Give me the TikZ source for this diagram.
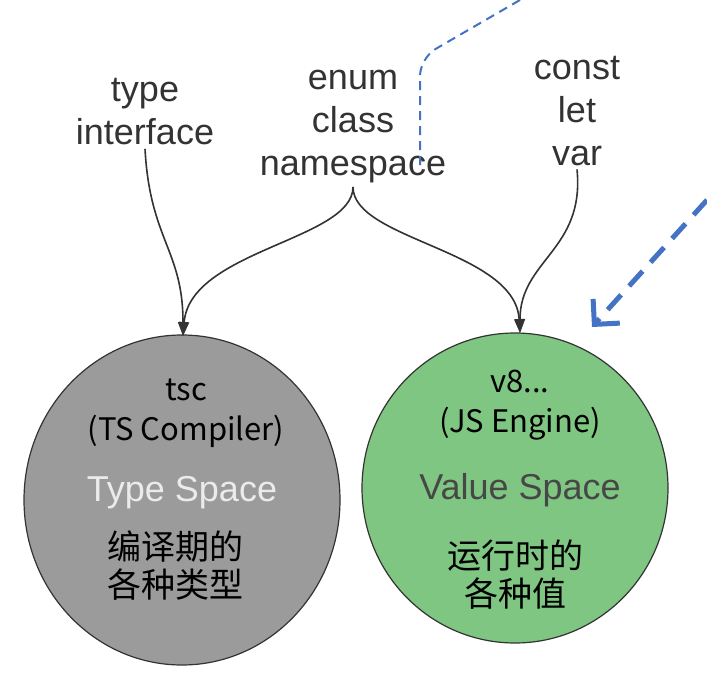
\documentclass[tikz,border=0pt]{standalone}
\usepackage{fontspec}
\setmainfont{Liberation Sans}
\newfontfamily\cjk{Noto Sans CJK SC}
\usetikzlibrary{arrows.meta,shapes.geometric}
\definecolor{txt}{HTML}{333333}
\definecolor{grayfill}{HTML}{9B9B9B}
\definecolor{greenfill}{HTML}{7FC682}
\definecolor{blu}{HTML}{4472C4}
\begin{document}
\begin{tikzpicture}[x=1pt,y=-1pt,
  lbl/.style={text=txt,align=center,font=\fontsize{36}{43}\selectfont},
  inner/.style={align=center,font=\cjk\fontsize{31}{40}\selectfont},
  cjkt/.style={align=center,font=\cjk\fontsize{34}{38}\selectfont},
  conn/.style={draw=txt,line width=1.6pt,-{Triangle[length=14pt,width=10pt]}},
  blob/.style={draw=txt,line width=1.2pt,ellipse,inner sep=0pt}]
\useasboundingbox (0,0) rectangle (707,691);
\fill[white] (0,0) rectangle (707,691);
\node[blob,fill=grayfill,minimum width=316pt,minimum height=330pt] (gc) at (182,500) {};
\node[blob,fill=greenfill,minimum width=306pt,minimum height=310pt] (vc) at (515,488) {};
\node[inner,text=black] (tsc) at (186,413) {tsc\\(TS Compiler)};
\node[lbl,text=white!92!black] (ts) at (182,493) {Type Space};
\node[cjkt,text=black] (gcn) at (175,566) {编译期的\\各种类型};
\node[inner,text=black] (v8) at (520,405) {v8...\\(JS Engine)};
\node[lbl,text=txt!90] (vs) at (520,490) {Value Space};
\node[cjkt,text=black] (vcn) at (515,575) {运行时的\\各种值};
\node[lbl] (t1) at (145,112) {type\\interface};
\node[lbl] (t2) at (353,127) {enum\\class\\namespace};
\node[lbl] (t3) at (577,111) {const\\let\\var};
\coordinate (gtop) at (183,336);
\coordinate (vtop) at (520,333);
\coordinate (dstart) at (420,165);
\coordinate (dend) at (520,0);
\coordinate (bstart) at (707,200);
\coordinate (bend2) at (592,327);
\draw[conn] (t1.south) .. controls (150,240) and (183,250) .. (gtop);
\draw[conn] (t2.south) .. controls (353,240) and (190,250) .. (gtop);
\draw[conn] (t2.south) .. controls (353,240) and (515,250) .. (vtop);
\draw[conn] (t3.south) .. controls (585,250) and (520,260) .. (vtop);
\draw[blu,line width=2pt,dash pattern=on 9pt off 6pt,rounded corners=18pt] (dstart) -- (420,58) -- (dend);
\draw[blu,line width=5pt,dash pattern=on 20pt off 12pt,-{Straight Barb[length=18pt,width=36pt,line width=5pt]}] (bstart) -- (bend2);
\end{tikzpicture}
\end{document}
